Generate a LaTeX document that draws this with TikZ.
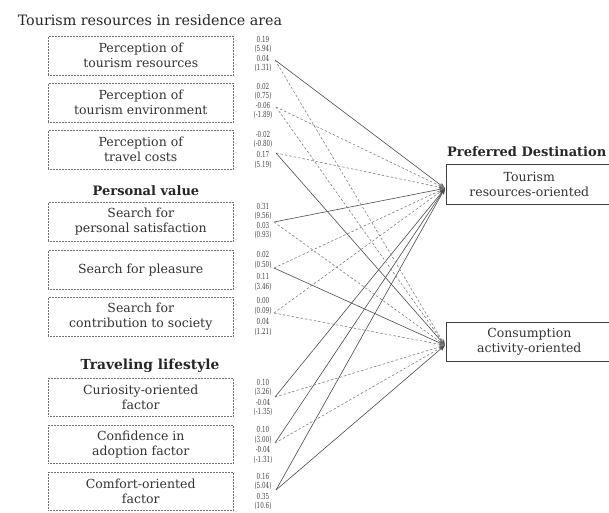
\documentclass[tikz,border=0pt]{standalone}
\usepackage{fontspec}
\setmainfont{DejaVu Serif}
\newfontfamily\coeffont[FakeStretch=0.68]{DejaVu Serif}
\usetikzlibrary{arrows.meta}

\tikzset{factor box/.style={draw=black!55,densely dotted,line width=0.5pt,anchor=north west,minimum width=185pt,minimum height=39pt,align=center,inner sep=0pt,text=black!80,font=\fontsize{12.5}{15}\selectfont},
dest box/.style={draw=black!75,solid,line width=0.6pt,anchor=north west,minimum width=166pt,minimum height=40pt,align=center,inner sep=0pt,text=black!80,font=\fontsize{12.5}{15}\selectfont},
area title/.style={font=\fontsize{14.3}{16}\selectfont,text=black!85,inner sep=0pt},
group title/.style={font=\fontsize{13}{16}\bfseries\selectfont,text=black!85,inner sep=0pt},
coef/.style={font=\coeffont\fontsize{8.3}{9}\selectfont,text=black!75,inner sep=0pt},
sig path/.style={draw=black!70,line width=0.6pt,-{Stealth[length=6pt,width=4.5pt]}},
ns path/.style={draw=black!50,line width=0.6pt,dash pattern=on 2.5pt off 2pt,-{Stealth[length=6pt,width=4.5pt]}}}

\begin{document}
\begin{tikzpicture}[x=1pt,y=-1pt]
\useasboundingbox (0,0) rectangle (609,512);

%% group titles
\node [area title] (tres title) at (150,20) {Tourism resources in residence area};
\node [group title] (pval title) at (146,191) {Personal value};
\node [group title,font=\fontsize{13.8}{16}\bfseries\selectfont] (tlife title) at (150,366) {Traveling lifestyle};
\node [group title,anchor=west] (pdest title) at (447,152) {Preferred Destination};

%% factor boxes (left)
\node [factor box] (f1) at (48,36) {Perception of\\tourism resources};
\node [factor box] (f2) at (48,83) {Perception of\\tourism environment};
\node [factor box] (f3) at (48,130) {Perception of\\travel costs};
\node [factor box] (f4) at (48,202) {Search for\\personal satisfaction};
\node [factor box] (f5) at (48,250) {Search for pleasure};
\node [factor box] (f6) at (48,297) {Search for\\contribution to society};
\node [factor box,minimum height=38pt] (f7) at (48,378) {Curiosity-oriented\\factor};
\node [factor box,minimum height=38pt] (f8) at (48,425) {Confidence in\\adoption factor};
\node [factor box,minimum height=38pt] (f9) at (48,472) {Comfort-oriented\\factor};

%% destination boxes (right)
\node [dest box] (tour) at (446,164) {Tourism\\resources-oriented};
\node [dest box,minimum height=39pt] (cons) at (446,322) {Consumption\\activity-oriented};

%% coefficients: tourism, (t), consumption, (t)
\node [coef] (f1a) at (263,39.5) {0.19};
\node [coef] (f1b) at (263,49) {(5.94)};
\node [coef] (f1c) at (263,58.5) {0.04};
\node [coef] (f1d) at (263,68) {(1.31)};
\node [coef] (f2a) at (263,86.5) {0.02};
\node [coef] (f2b) at (263,96) {(0.75)};
\node [coef] (f2c) at (263,105.5) {-0.06};
\node [coef] (f2d) at (263,115) {(-1.89)};
\node [coef] (f3a) at (263,134) {-0.02};
\node [coef] (f3b) at (263,144) {(-0.80)};
\node [coef] (f3c) at (263,154) {0.17};
\node [coef] (f3d) at (263,164.5) {(5.19)};
\node [coef] (f4a) at (263,206) {0.31};
\node [coef] (f4b) at (263,215.5) {(9.56)};
\node [coef] (f4c) at (263,225) {0.03};
\node [coef] (f4d) at (263,234.5) {(0.93)};
\node [coef] (f5a) at (263,254) {0.02};
\node [coef] (f5b) at (263,265) {(0.50)};
\node [coef] (f5c) at (263,276) {0.11};
\node [coef] (f5d) at (263,287) {(3.46)};
\node [coef] (f6a) at (263,300.5) {0.00};
\node [coef] (f6b) at (263,311) {(0.09)};
\node [coef] (f6c) at (263,321.5) {0.04};
\node [coef] (f6d) at (263,332) {(1.21)};
\node [coef] (f7a) at (263,382) {0.10};
\node [coef] (f7b) at (263,392) {(3.26)};
\node [coef] (f7c) at (263,402) {-0.04};
\node [coef] (f7d) at (263,412) {(-1.35)};
\node [coef] (f8a) at (263,429.5) {0.10};
\node [coef] (f8b) at (263,439.5) {(3.00)};
\node [coef] (f8c) at (263,449.5) {-0.04};
\node [coef] (f8d) at (263,459.5) {(-1.31)};
\node [coef] (f9a) at (263,476) {0.16};
\node [coef] (f9b) at (263,486) {(5.04)};
\node [coef] (f9c) at (263,496) {0.35};
\node [coef] (f9d) at (263,506) {(10.6)};

%% Coordinates of path ends.
\coordinate (f1s) at (275,60);
\coordinate (f2s) at (276,107);
\coordinate (f3s) at (276,153);
\coordinate (f4s) at (274,222);
\coordinate (f5s) at (274,268);
\coordinate (f6s) at (274,313);
\coordinate (f7s) at (275,397);
\coordinate (f8s) at (275,443);
\coordinate (f9s) at (276,490);
\coordinate (tour in) at ([xshift=-1pt,yshift=-4pt]tour.west);
\coordinate (cons in) at ([xshift=-1pt,yshift=-3.5pt]cons.west);

%% paths to tourism resources-oriented
\draw [sig path] (f1s) -- (tour in);
\draw [ns path] (f2s) -- (tour in);
\draw [ns path] (f3s) -- (tour in);
\draw [sig path] (f4s) -- (tour in);
\draw [ns path] (f5s) -- (tour in);
\draw [ns path] (f6s) -- (tour in);
\draw [sig path] (f7s) -- (tour in);
\draw [sig path] (f8s) -- (tour in);
\draw [sig path] (f9s) -- (tour in);

%% paths to consumption activity-oriented
\draw [ns path] (f1s) -- (cons in);
\draw [ns path] (f2s) -- (cons in);
\draw [sig path] (f3s) -- (cons in);
\draw [ns path] (f4s) -- (cons in);
\draw [sig path] (f5s) -- (cons in);
\draw [ns path] (f6s) -- (cons in);
\draw [ns path] (f7s) -- (cons in);
\draw [ns path] (f8s) -- (cons in);
\draw [sig path] (f9s) -- (cons in);

\end{tikzpicture}
\end{document}
